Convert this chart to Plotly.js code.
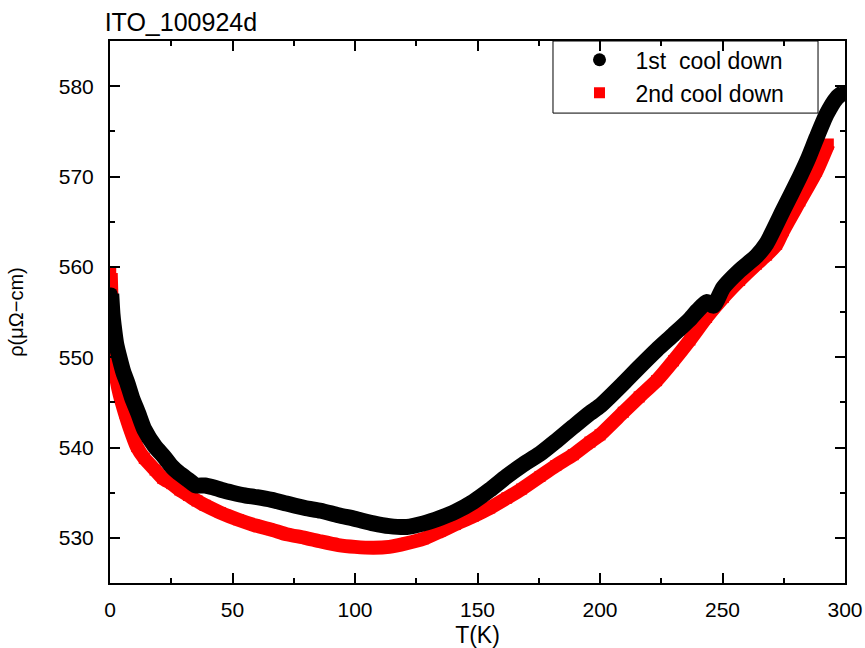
<!DOCTYPE html>
<html>
<head>
<meta charset="utf-8">
<script src="https://cdn.plot.ly/plotly-3.0.1.min.js"></script>
<style>html,body{margin:0;padding:0;background:#fff;}#chart{width:865px;height:648px;}</style>
</head>
<body>
<div id="chart"></div>
<script>
// 1st cool down (black)
const T1 = [0.5, 1.0, 1.5, 2.5, 4, 5.5, 7, 9, 11.5, 14, 18.4, 22, 25.2, 28, 32, 35, 38.8, 42, 45.6, 50,
  55, 60, 66, 72, 79.6, 86, 93.2, 100, 107.5, 114, 121.1, 128, 134.7, 141, 148.3, 155, 161.9, 168, 175.5, 182,
  189.1, 195.9, 200, 209.5, 216, 223.1, 230, 236.7, 240, 243.5, 246.3, 250.3, 257, 263.9, 268, 274.8, 281.6, 285,
  288.4, 292.5, 296.6, 299.3];
const rho1 = [557.0, 554.8, 553.5, 551.5, 549.8, 548.3, 547.2, 545.5, 543.8, 542.0, 540.1, 539.0, 537.9, 537.2,
  536.4, 535.8, 535.8, 535.6, 535.3, 535.0, 534.7, 534.5, 534.2, 533.8, 533.3, 533.0, 532.5, 532.1, 531.6, 531.3,
  531.2, 531.6, 532.2, 532.9, 534.0, 535.3, 536.8, 538.0, 539.3, 540.7, 542.3, 543.8, 544.6, 547.1, 548.9, 550.8,
  552.5, 554.2, 555.2, 556.1, 555.7, 557.7, 559.6, 561.2, 562.6, 566.3, 570.0, 572.0, 574.3, 576.9, 578.7, 579.3];

// 2nd cool down (red)
const T2 = [0.3, 0.6, 1.0, 1.5, 2.0, 2.7, 4, 6.1, 8, 10.9, 14, 18.4, 21.5, 25.2, 28.5, 32, 35.5, 38.8, 45, 52.4,
  59, 66, 72, 79.6, 86, 93.2, 100, 107.5, 114, 121.1, 128, 134.7, 141, 148.3, 155, 161.9, 168, 175.5, 182, 189.1,
  195.9, 200, 209.5, 216, 223.1, 230, 236.7, 243.5, 250.3, 257, 263.9, 268, 272.1, 274.8, 281.6, 288.4, 293.2];
const rho2 = [559.3, 556.5, 553.5, 551.0, 549.5, 547.5, 545.8, 543.8, 542.2, 540.1, 538.8, 537.5, 536.6, 536.0,
  535.3, 534.7, 534.1, 533.6, 532.8, 532.0, 531.4, 530.9, 530.4, 530.0, 529.6, 529.2, 529.0, 528.9, 529.0, 529.4,
  529.9, 530.7, 531.5, 532.4, 533.3, 534.4, 535.4, 536.8, 538.0, 539.2, 540.6, 541.4, 543.9, 545.6, 547.4, 549.6,
  551.9, 554.4, 556.6, 558.5, 560.3, 561.3, 562.5, 564.0, 567.3, 570.6, 573.6];

const seriesNames = ['1st\u00a0 cool down', '2nd cool down'];
const chartTitle = 'ITO_100924d';
const xTitle = 'T(K)';
const yTitle = '\u03c1(\u03bc\u03a9\u2212cm)';

const FONT = 'Arial, "Liberation Sans", sans-serif';

const traces = [
  {x: T2, y: rho2, mode: 'lines', line: {color: '#ff0000', width: 14, shape: 'spline', smoothing: 0.6}, showlegend: false, hoverinfo: 'skip', legendgroup: 'b'},
  {x: T2, y: rho2, mode: 'markers', name: seriesNames[1], marker: {symbol: 'square', size: 11, color: '#ff0000'}, legendgroup: 'b', legendrank: 2},
  {x: T1, y: rho1, mode: 'lines', line: {color: '#000000', width: 16, shape: 'spline', smoothing: 0.6}, showlegend: false, hoverinfo: 'skip', legendgroup: 'a'},
  {x: T1, y: rho1, mode: 'markers', name: seriesNames[0], marker: {symbol: 'circle', size: 13, color: '#000000'}, legendgroup: 'a', legendrank: 1}
];

const axisCommon = {
  showgrid: false, zeroline: false,
  showline: true, linecolor: '#000', linewidth: 2, mirror: 'ticks',
  ticks: 'inside', ticklen: 10, tickwidth: 1.5, tickcolor: '#000',
  tickfont: {family: FONT, size: 21, color: '#000'},
  automargin: false
};

const layout = {
  width: 865, height: 648,
  margin: {l: 110, r: 20, t: 41, b: 65},
  paper_bgcolor: '#fff', plot_bgcolor: '#fff',
  font: {family: FONT, color: '#000'},
  title: {text: chartTitle, font: {family: FONT, size: 25, color: '#000'},
          x: 0.121, xref: 'container', xanchor: 'left', y: 0.966, yref: 'container', yanchor: 'middle'},
  xaxis: Object.assign({}, axisCommon, {
    range: [0, 300], tick0: 0, dtick: 50,
    minor: {dtick: 25, ticks: 'inside', ticklen: 5, tickwidth: 1.5, tickcolor: '#000'},
    ticklabelstandoff: 7,
    title: {text: xTitle, font: {family: FONT, size: 23, color: '#000'}}
  }),
  yaxis: Object.assign({}, axisCommon, {
    range: [525, 585], tick0: 530, dtick: 10,
    minor: {dtick: 5, ticks: 'inside', ticklen: 5, tickwidth: 1.5, tickcolor: '#000'},
    ticklabelstandoff: 10,
    automargin: 'left',
    title: {text: yTitle, font: {family: FONT, size: 20, color: '#000'}, standoff: 30}
  }),
  showlegend: true,
  legend: {
    x: 0.617, xref: 'paper', xanchor: 'left',
    y: 1.005, yref: 'paper', yanchor: 'top',
    bgcolor: 'rgba(0,0,0,0)', borderwidth: 0,
    font: {family: FONT, size: 23, color: '#000'},
    itemwidth: 62, tracegroupgap: 0, traceorder: 'grouped'
  },
  shapes: [{
    type: 'rect', xref: 'paper', yref: 'paper',
    x0: 0.6027, x1: 0.9633, y0: 0.867, y1: 1.0,
    line: {color: '#000', width: 1}, fillcolor: '#fff', layer: 'below'
  }]
};

Plotly.newPlot('chart', traces, layout, {displayModeBar: false, responsive: false});
</script>
</body>
</html>
